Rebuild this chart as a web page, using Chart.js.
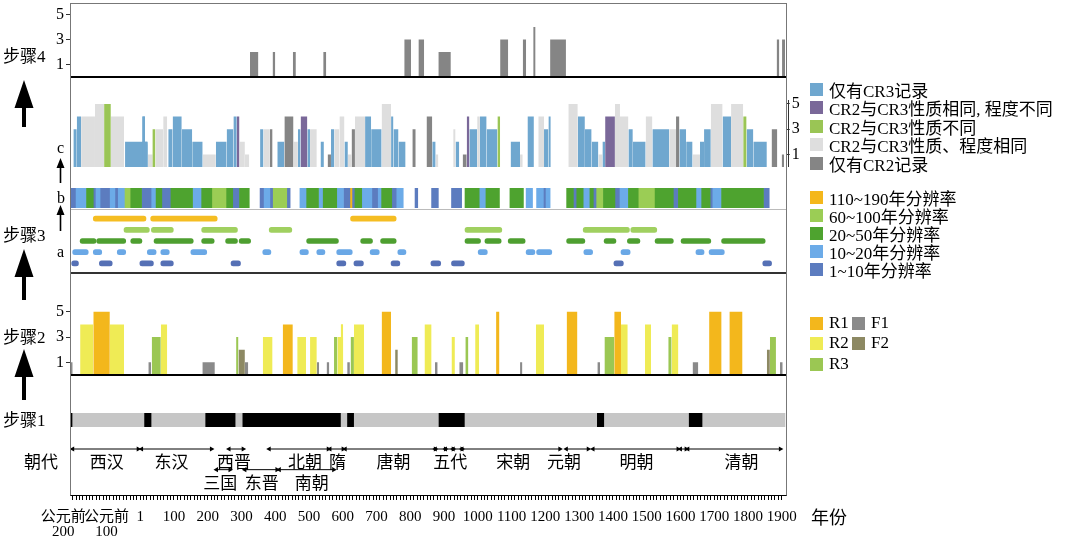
<!DOCTYPE html>
<html>
<head>
<meta charset="utf-8">
<script src="https://cdn.jsdelivr.net/npm/chart.js@4.4.0/dist/chart.umd.min.js"></script>
<style>
  body { margin: 0; background: #fff; }
  #wrap { position: relative; width: 1065px; height: 539px; overflow: hidden;
          font-family: 'Liberation Serif', 'Noto Sans CJK SC', serif; color: #000; }
  canvas { position: absolute; left: 0; }
  .t { position: absolute; white-space: nowrap; line-height: 1; }
  .hl { position: absolute; left: 70px; width: 716px; }
  .lg { position: absolute; left: 810px; height: 18px; display: flex; align-items: center;
        font-size: 17px; white-space: nowrap; }
  .lg i { display: inline-block; width: 13px; height: 13px; margin-right: 6px; }
  #frame { position: absolute; left: 70px; top: 3px; width: 715px; height: 491px;
           border: 1px solid #777; border-bottom-color: #000; pointer-events: none; }
</style>
</head>
<body>
<div id="wrap">
  <canvas id="c4"></canvas>
  <canvas id="cc"></canvas>
  <canvas id="cb"></canvas>
  <canvas id="ca"></canvas>
  <canvas id="c2"></canvas>
  <canvas id="c1"></canvas>
  <canvas id="cd"></canvas>

  <div class="hl" style="top:76px;height:2px;background:#000"></div>
  <div class="hl" style="top:209px;height:1px;background:#bbb"></div>
  <div class="hl" style="top:272px;height:2px;background:#333"></div>
  <div class="hl" style="top:374px;height:2px;background:#000"></div>
  <div style="position:absolute;left:788px;top:100px;width:1px;height:67px;background:#333"></div>
  <div id="frame"></div>

  <svg style="position:absolute;left:0;top:0" width="70" height="539">
    <polygon points="24,80 33.5,108 26,108 26,127 22,127 22,108 14.5,108" fill="#000"/>
    <polygon points="24,249 33.5,277 26,277 26,300 22,300 22,277 14.5,277" fill="#000"/>
    <polygon points="24,349 33.5,377 26,377 26,400 22,400 22,377 14.5,377" fill="#000"/>
    <polygon points="60.5,158 64.5,168 61.3,168 61.3,183 59.7,183 59.7,168 56.5,168" fill="#000"/>
    <polygon points="60.5,205 64.5,215 61.3,215 61.3,231 59.7,231 59.7,215 56.5,215" fill="#000"/>
  </svg>

  <div class="t" style="left:3px;top:48px;font-size:17px">步骤4</div>
  <div class="t" style="left:3px;top:227px;font-size:17px">步骤3</div>
  <div class="t" style="left:3px;top:329px;font-size:17px">步骤2</div>
  <div class="t" style="left:3px;top:412px;font-size:17px">步骤1</div>
  <div class="t" style="left:24px;top:454px;font-size:17px">朝代</div>
  <div class="t" style="left:57px;top:140px;font-size:16px">c</div>
  <div class="t" style="left:57px;top:190px;font-size:16px">b</div>
  <div class="t" style="left:57px;top:244px;font-size:16px">a</div>
  <div class="t" style="left:811px;top:509px;font-size:18px">年份</div>

  <div id="legends"></div>
</div>

<script>
// ---- 年份轴 ----
const X_MIN = -208, X_MAX = 1912;
const axisYears = [-200, -100, 0, 100, 200, 300, 400, 500, 600, 700, 800, 900,
  1000, 1100, 1200, 1300, 1400, 1500, 1600, 1700, 1800, 1900];
const axisLabels = [['公元前     ', '200     '], ['公元前', '100'], '1', '100', '200', '300', '400',
  '500', '600', '700', '800', '900', '1000', '1100', '1200', '1300', '1400', '1500', '1600',
  '1700', '1800', '1900'];
const countTicks = [1, 2, 3, 4, 5];
const countTickLabels = ['1', '', '3', '', '5'];

// ---- 步骤4 [起, 止, 数值] ----
const step4Bars = [[325, 350, 2], [392, 400, 2], [452, 461, 2], [542, 551, 2], [782, 802, 3],
  [824, 841, 3], [883, 920, 2], [1066, 1090, 3], [1133, 1143, 3], [1164, 1171, 4],
  [1214, 1261, 3], [1885, 1893, 3], [1901, 1910, 3]];

// ---- c: CR2 / CR3 对比 ----
const cSameAll = [[-175, -134, 4], [-134, -107, 5], [-87, -48, 4], [22, 37, 1], [45, 68, 3],
  [68, 80, 4], [185, 224, 1], [294, 310, 2], [310, 323, 1], [365, 384, 3], [454, 467, 2],
  [503, 523, 3], [575, 590, 3], [590, 605, 4], [615, 626, 1], [636, 666, 4], [715, 743, 5],
  [875, 883, 1], [927, 934, 3], [998, 1006, 4], [1125, 1133, 1], [1179, 1196, 4],
  [1268, 1296, 5], [1357, 1369, 1], [1406, 1421, 5], [1421, 1446, 4], [1497, 1517, 4],
  [1567, 1587, 3], [1636, 1658, 1], [1690, 1725, 5], [1750, 1786, 5]];
const cCR3Only = [[-198, -188, 3], [-188, -175, 4], [-45, 22, 2], [6, 14, 4], [83, 96, 3],
  [96, 123, 4], [123, 154, 3], [154, 185, 2], [224, 256, 2], [256, 276, 3], [276, 286, 4],
  [355, 365, 3], [406, 427, 2], [467, 475, 3], [495, 503, 3], [534, 544, 2], [565, 575, 3],
  [605, 615, 2], [666, 684, 4], [684, 715, 3], [743, 750, 4], [750, 765, 3], [765, 786, 2],
  [865, 875, 2], [934, 945, 2], [975, 998, 3], [1006, 1026, 4], [1026, 1058, 3],
  [1097, 1125, 2], [1147, 1166, 4], [1196, 1209, 3], [1209, 1216, 4], [1296, 1317, 4],
  [1317, 1337, 3], [1337, 1357, 2], [1369, 1377, 2], [1446, 1459, 3], [1459, 1497, 2],
  [1517, 1567, 3], [1597, 1617, 3], [1617, 1636, 2], [1658, 1670, 2], [1670, 1690, 3],
  [1725, 1750, 4], [1796, 1816, 3], [1816, 1856, 2]];
const cSameNatureDiffDeg = [[286, 294, 4], [475, 495, 4], [967, 975, 4], [1377, 1406, 4]];
const cDiffNature = [[-107, -87, 5], [36, 45, 3], [1058, 1066, 4], [1786, 1796, 4]];
const cCR2Only = [[384, 392, 3], [427, 454, 4], [555, 565, 1], [626, 636, 3], [806, 816, 3],
  [848, 865, 4], [955, 967, 1], [1587, 1597, 4], [1870, 1887, 3], [1900, 1907, 1]];

// ---- b: 分辨率条带 [起, 止] ----
const bRes1 = [[-205, -190], [-139, -131], [-119, -89], [-75, -65], [4, 34], [64, 91], [274, 294],
  [355, 367], [384, 394], [434, 444], [602, 621], [629, 636], [686, 705], [745, 760], [814, 822],
  [863, 883], [922, 952], [1194, 1202], [1283, 1293], [1342, 1352], [1406, 1421], [1579, 1594],
  [1688, 1696], [1846, 1863]];
const bRes10 = [[-190, -159], [-131, -119], [-89, -75], [-65, -45], [34, 47], [155, 182],
  [367, 384], [473, 493], [528, 542], [582, 602], [656, 686], [705, 715], [760, 779],
  [1004, 1024], [1143, 1162], [1174, 1194], [1202, 1214], [1312, 1332], [1421, 1446],
  [1646, 1663], [1696, 1722]];
const bRes20 = [[-159, -139], [-28, 4], [47, 64], [91, 155], [182, 212], [256, 274], [294, 323],
  [493, 528], [542, 582], [636, 656], [715, 745], [962, 1004], [1024, 1064], [1095, 1135],
  [1263, 1283], [1293, 1312], [1332, 1342], [1372, 1406], [1446, 1475], [1525, 1579],
  [1594, 1646], [1663, 1688], [1722, 1846]];
const bRes60 = [[-45, -28], [212, 256], [394, 434], [1352, 1372], [1475, 1525]];
const bRes110 = [[621, 629]];

// ---- a: 各分辨率记录 ----
const aRes110 = [[-139, 17], [31, 228], [623, 758]];
const aRes60 = [[-48, 27], [33, 98], [182, 288], [382, 449], [962, 1071], [1312, 1449], [1453, 1530]];
const aRes20 = [[-178, -131], [-129, -43], [-28, 5], [41, 157], [182, 219], [253, 288], [293, 327],
  [493, 587], [653, 688], [712, 758], [962, 1008], [1021, 1069], [1090, 1140], [1263, 1317],
  [1374, 1409], [1443, 1480], [1525, 1579], [1602, 1690], [1722, 1851]];
const aRes10 = [[-200, -154], [-139, -114], [-68, -43], [21, 47], [61, 86], [150, 197], [363, 387],
  [473, 498], [523, 547], [582, 628], [681, 708], [763, 787], [1001, 1028], [1143, 1169],
  [1174, 1219], [1314, 1340], [1424, 1451], [1646, 1670], [1685, 1730]];
const aRes1 = [[-203, -183], [-121, -83], [-1, 39], [61, 98], [269, 297], [582, 609], [633, 661],
  [743, 769], [861, 890], [922, 960], [1403, 1431], [1844, 1870]];

// ---- 步骤2 ----
const s2R1 = [[-139, -90, 5], [422, 452, 4], [715, 743, 5], [1054, 1064, 5], [1263, 1295, 5],
  [1404, 1424, 5], [1685, 1722, 5], [1745, 1784, 5]];
const s2R2 = [[-178, -139, 4], [-90, -48, 4], [61, 80, 4], [363, 392, 3], [465, 491, 3],
  [503, 523, 3], [584, 601, 3], [594, 601, 4], [633, 663, 4], [842, 863, 4], [922, 932, 3],
  [992, 1004, 4], [1172, 1196, 4], [1424, 1444, 4], [1495, 1513, 4], [1574, 1594, 4]];
const s2R3 = [[34, 61, 3], [284, 291, 3], [574, 584, 3], [623, 633, 3], [804, 822, 3],
  [963, 972, 3], [1375, 1404, 3], [1564, 1574, 3], [1865, 1883, 3]];
const s2F1 = [[-208, -200, 1], [24, 32, 1], [184, 221, 1], [310, 320, 1], [523, 530, 1],
  [552, 560, 1], [613, 621, 1], [873, 881, 1], [945, 957, 1], [1125, 1132, 1], [1354, 1362, 1],
  [1636, 1653, 1], [1895, 1903, 1]];
const s2F2 = [[291, 310, 2], [755, 763, 2], [1856, 1865, 2]];

// ---- 步骤1 ----
const s1Gray = [[-200, 11], [34, 192], [283, 302], [595, 612], [634, 883], [962, 1352],
  [1375, 1624], [1666, 1910]];
const s1Black = [[-208, -200], [11, 34], [192, 283], [302, 595], [612, 634], [883, 962],
  [1352, 1375], [1624, 1666]];

// ---- 朝代 ----
const dynastyNames = ['西汉', '东汉', '三国', '西晋', '东晋', '北朝', '南朝', '隋', '唐朝',
  '五代', '宋朝', '元朝', '明朝', '清朝'];
const dynastyRow = [1, 1, 2, 1, 2, 1, 2, 1, 1, 1, 1, 1, 1, 1];
const dynastyLabelAt = [-99, 93, 237, 278, 360, 488, 508, 584, 750, 918, 1105, 1255, 1470, 1781];
const dynastyArrows = [[-200, -6, 1], [4, 211, 1], [226, 266, 2], [263, 305, 1], [310, 405, 2],
  [382, 557, 1], [412, 573, 2], [562, 601, 1], [607, 874, 1], [874, 904, 1], [904, 927, 1],
  [927, 953, 1], [953, 1243, 1], [1262, 1327, 1], [1341, 1593, 1], [1600, 1617, 1],
  [1622, 1896, 1]];

const SERIF = "'Liberation Serif', 'Noto Sans CJK SC', serif";
const CJK = "'Noto Sans CJK SC', sans-serif";

Chart.defaults.animation = false;
Chart.defaults.responsive = false;
Chart.defaults.events = [];
Chart.defaults.plugins.legend.display = false;
Chart.defaults.plugins.tooltip.enabled = false;
Chart.defaults.font.family = SERIF;
Chart.defaults.color = '#000';

function canvasAt(id, top, height) {
  const c = document.getElementById(id);
  c.width = 830;
  c.height = height;
  c.style.top = top + 'px';
  return c;
}

function xHidden() {
  return { type: 'linear', min: X_MIN, max: X_MAX, display: false };
}

function countAxis(pos, yMax, width) {
  return {
    position: pos, min: 0, max: yMax,
    afterBuildTicks: a => { a.ticks = countTicks.map(v => ({ value: v })); },
    afterFit: a => { a.width = width; a.paddingTop = 0; a.paddingBottom = 0; },
    grid: { drawOnChartArea: false, drawTicks: true, tickLength: 4, color: '#333' },
    border: { display: false },
    ticks: { padding: 2, font: { size: 16 }, callback: (v, i) => countTickLabels[i] }
  };
}

// rectangles as filled outlines on the linear year axis
function rectSet(list, color, order) {
  const pts = [];
  list.forEach(([s, e, v]) => {
    pts.push({ x: s, y: 0 }, { x: s, y: v }, { x: e, y: v }, { x: e, y: 0 }, { x: e, y: null });
  });
  return { data: pts, backgroundColor: color, borderColor: color, borderWidth: 0,
           pointRadius: 0, fill: 'origin', order };
}

function rectPanel(id, top, height, yMax, sets, withLeft, withRight) {
  const scales = {
    x: xHidden(),
    y: withLeft ? countAxis('left', yMax, 70) : { display: false, min: 0, max: yMax }
  };
  if (withRight) scales.yr = countAxis('right', yMax, 44.25);
  new Chart(canvasAt(id, top, height), {
    type: 'line',
    data: { datasets: sets },
    options: {
      layout: { padding: { left: withLeft ? 0 : 70, right: withRight ? 0 : 44.25, top: 0, bottom: 0 } },
      scales,
      elements: { line: { tension: 0 } }
    }
  });
}

function stripSet(list, row, color, round) {
  return { data: list.map(([s, e]) => ({ x: [s, e], y: row })), backgroundColor: color,
           borderWidth: 0, borderRadius: round || 0, borderSkipped: false };
}

function stripPanel(id, top, height, rows, sets, thickness) {
  new Chart(canvasAt(id, top, height), {
    type: 'bar',
    data: { labels: rows, datasets: sets },
    options: {
      indexAxis: 'y',
      layout: { padding: { left: 70, right: 44.25, top: 0, bottom: 0 } },
      scales: { x: xHidden(), y: { type: 'category', display: false } },
      datasets: { bar: { grouped: false, barPercentage: 1, categoryPercentage: 1, barThickness: thickness } }
    }
  });
}

// 步骤4
rectPanel('c4', 3, 74, 5.92, [rectSet(step4Bars, '#858585', 1)], true, false);

// c
rectPanel('cc', 77, 90, 7.14, [
  rectSet(cSameAll, '#dedede', 5),
  rectSet(cCR3Only, '#6fa7cf', 4),
  rectSet(cCR2Only, '#858585', 3),
  rectSet(cSameNatureDiffDeg, '#7a6899', 2),
  rectSet(cDiffNature, '#9ac555', 1)
], false, true);

// b
stripPanel('cb', 188, 20, ['b'], [
  stripSet(bRes20, 'b', '#4ea32f'),
  stripSet(bRes60, 'b', '#9bcd55'),
  stripSet(bRes10, 'b', '#6cabe8'),
  stripSet(bRes1, 'b', '#5c7cbf'),
  stripSet(bRes110, 'b', '#f4b71b')
]);

// a
stripPanel('ca', 213, 56, ['r110', 'r60', 'r20', 'r10', 'r1'], [
  stripSet(aRes110, 'r110', '#f5bd22', 3),
  stripSet(aRes60, 'r60', '#a0d060', 3),
  stripSet(aRes20, 'r20', '#4e9f30', 3),
  stripSet(aRes10, 'r10', '#6aa8e6', 3),
  stripSet(aRes1, 'r1', '#5570b5', 3)
], 5);

// 步骤2
rectPanel('c2', 273, 102, 8.06, [
  rectSet(s2R2, '#efeb55', 5),
  rectSet(s2R1, '#f3b71c', 4),
  rectSet(s2R3, '#9bc753', 3),
  rectSet(s2F1, '#8a8a8a', 2),
  rectSet(s2F2, '#8d8963', 1)
], true, false);

// 步骤1
stripPanel('c1', 413, 14, ['s1'], [
  stripSet(s1Gray, 's1', '#c6c6c6'),
  stripSet(s1Black, 's1', '#000')
]);

// 朝代 + 年份轴
const arrowPts = [];
dynastyArrows.forEach(([s, e, r]) => {
  arrowPts.push({ x: s, y: r, h: -90 }, { x: e, y: r, h: 90 }, { x: e, y: null });
});
const LABEL_DROP = 0.6;
const dynastyText = {
  id: 'dynastyText',
  afterDatasetsDraw(chart) {
    const { ctx, scales: { x, y } } = chart;
    ctx.save();
    ctx.font = '17px ' + CJK;
    ctx.fillStyle = '#000';
    ctx.textAlign = 'center';
    ctx.textBaseline = 'middle';
    dynastyNames.forEach((n, i) => {
      ctx.fillText(n, x.getPixelForValue(dynastyLabelAt[i]), y.getPixelForValue(dynastyRow[i] + LABEL_DROP));
    });
    ctx.restore();
  }
};

const tickYears = [];
for (let i = 0; i < axisYears.length - 1; i++) {
  for (let k = 0; k < 10; k++) tickYears.push(axisYears[i] + (axisYears[i + 1] - axisYears[i]) * k / 10);
}
tickYears.push(axisYears[axisYears.length - 1]);

new Chart(canvasAt('cd', 430, 109), {
  type: 'line',
  data: { datasets: [{
    data: arrowPts, borderColor: '#000', borderWidth: 1,
    pointStyle: 'triangle', pointRadius: 3, pointBackgroundColor: '#000', pointBorderWidth: 0,
    pointRotation: c => (c.raw ? c.raw.h : 0)
  }] },
  options: {
    layout: { padding: { left: 70, right: 44.25, top: 0, bottom: 0 } },
    scales: {
      x: {
        type: 'linear', min: X_MIN, max: X_MAX, position: 'bottom',
        afterBuildTicks: a => { a.ticks = tickYears.map(v => ({ value: v })); },
        afterFit: a => { a.height = 44; a.paddingLeft = 0; a.paddingRight = 0; },
        grid: { drawOnChartArea: false, tickLength: 5, color: '#000' },
        border: { display: false },
        ticks: {
          autoSkip: false, maxRotation: 0, minRotation: 0, padding: 10,
          font: { size: 15, lineHeight: 1 },
          callback: v => { const i = axisYears.indexOf(v); return i < 0 ? '' : axisLabels[i]; }
        }
      },
      y: { display: false, reverse: true, min: 0.273, max: 3.227 }
    }
  },
  plugins: [dynastyText]
});

// 图例
const legendC = [['仅有CR3记录', '#6fa7cf'], ['CR2与CR3性质相同, 程度不同', '#7a6899'],
  ['CR2与CR3性质不同', '#9ac555'], ['CR2与CR3性质、程度相同', '#dedede'], ['仅有CR2记录', '#858585']];
const legendRes = [['110~190年分辨率', '#f4b71b'], ['60~100年分辨率', '#9bcd55'],
  ['20~50年分辨率', '#4ea32f'], ['10~20年分辨率', '#6cabe8'], ['1~10年分辨率', '#5c7cbf']];
const legendS2 = [['R1', '#f3b71c', 810, 323], ['F1', '#8a8a8a', 852, 323], ['R2', '#efeb55', 810, 343],
  ['F2', '#8d8963', 852, 343], ['R3', '#9bc753', 810, 364]];
const lg = document.getElementById('legends');
function addLegend(text, color, left, cy) {
  const d = document.createElement('div');
  d.className = 'lg';
  d.style.left = left + 'px';
  d.style.top = (cy - 9) + 'px';
  d.innerHTML = '<i style="background:' + color + '"></i>' + text;
  lg.appendChild(d);
}
legendC.forEach(([t, c], i) => addLegend(t, c, 810, 89 + i * 18.6));
legendRes.forEach(([t, c], i) => addLegend(t, c, 810, 197 + i * 18.2));
legendS2.forEach(([t, c, x, y]) => addLegend(t, c, x, y));
</script>
</body>
</html>
